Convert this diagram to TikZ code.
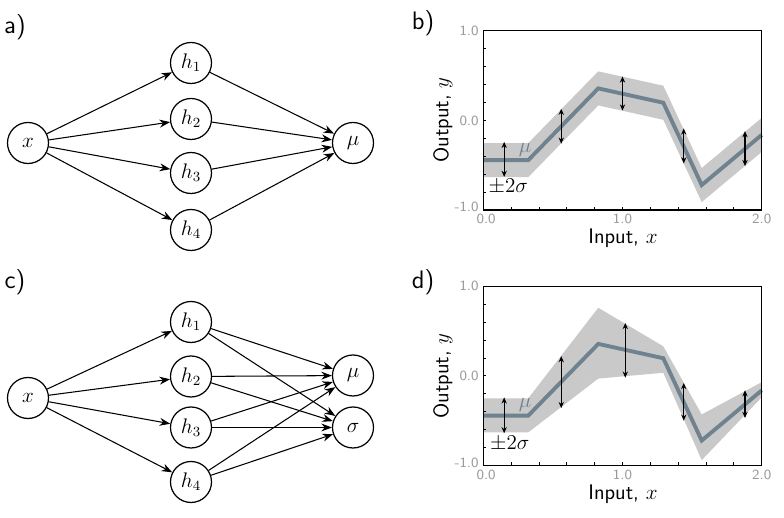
\documentclass[tikz,border=0pt]{standalone}
\usepackage{amsmath,amssymb}
\usetikzlibrary{arrows.meta}

\definecolor{meangray}{HTML}{6E828F}
\definecolor{bandgray}{HTML}{C9C9C9}
\definecolor{tickgray}{HTML}{9A9A9A}

\tikzset{
  neuron/.style={circle,draw,line width=0.7pt,minimum size=8.2mm,inner sep=0pt,font=\large},
  conn/.style={-{Stealth[length=6pt,width=4.5pt]},line width=0.6pt},
  panel/.style={font=\sffamily\Large},
  meanline/.style={meangray,line width=2.2pt,line join=miter},
  band/.style={fill=bandgray},
  errbar/.style={{Stealth[length=3.5pt,width=3pt]}-{Stealth[length=3.5pt,width=3pt]},line width=0.6pt},
  plotbox/.style={line width=0.8pt},
  ticklbl/.style={tickgray,font=\sffamily\footnotesize,inner sep=0.5pt},
  axislbl/.style={font=\sffamily\large},
}

\begin{document}
\begin{tikzpicture}[x=0.2mm,y=-0.2mm]
  \useasboundingbox (0,0) rectangle (784,518);

  % a) one output
  \node[panel] (pa) at (15,27) {a)};
  \node[neuron] (xa) at (28,143) {$x$};
  \node[neuron] (ha1) at (191,63) {$h_1$};
  \node[neuron] (ha2) at (191,119) {$h_2$};
  \node[neuron] (ha3) at (191,173) {$h_3$};
  \node[neuron] (ha4) at (191,230) {$h_4$};
  \node[neuron] (mua) at (353,143) {$\mu$};
  \foreach \i in {1,...,4} {
    \draw[conn] (xa) -- (ha\i);
    \draw[conn] (ha\i) -- (mua);
  }

  % c) two outputs
  \node[panel] (pc) at (15,282) {c)};
  \node[neuron] (xc) at (28,398) {$x$};
  \node[neuron] (hc1) at (191,322) {$h_1$};
  \node[neuron] (hc2) at (191,376.5) {$h_2$};
  \node[neuron] (hc3) at (191,427.5) {$h_3$};
  \node[neuron] (hc4) at (191,482) {$h_4$};
  \node[neuron] (muc) at (353,375.5) {$\mu$};
  \node[neuron] (sigc) at (353,427.5) {$\sigma$};
  \foreach \i in {1,...,4} {
    \draw[conn] (xc) -- (hc\i);
    \draw[conn] (hc\i) -- (muc);
    \draw[conn] (hc\i) -- (sigc);
  }

  % b) constant spread
  \node[panel] (pb) at (423,23) {b)};
  \node[axislbl,rotate=90] (yb) at (443,120) {Output, $y$};
  \node[axislbl] (xlb) at (623,238) {Input, $x$};
  \begin{scope}[shift={(483.3,120.4)},x=27.84mm,y=17.93mm]
    \fill[band] (0,-0.253) -- (0.323,-0.253) -- (0.826,0.547) -- (1.293,0.387)
      -- (1.569,-0.531) -- (2,0.028) -- (2,-0.352) -- (1.569,-0.911)
      -- (1.293,0.007) -- (0.826,0.167) -- (0.323,-0.633) -- (0,-0.633) -- cycle;
    \draw[meanline] (0,-0.443) -- (0.323,-0.443) -- (0.826,0.357) -- (1.293,0.197)
      -- (1.569,-0.721) -- (2,-0.162);
    \foreach \xe/\ya/\yb in {0.15/-0.24/-0.63,0.56/0.13/-0.26,1.0/0.49/0.11,
      1.44/-0.09/-0.48,1.88/-0.12/-0.51}
      \draw[errbar] (\xe,\ya) -- (\xe,\yb);
    \foreach \v in {0.2,0.4,...,1.9}
      \draw[line width=0.5pt] (\v,-1) -- (\v,-0.965);
    \foreach \v in {-0.8,-0.6,...,0.9}
      \draw[line width=0.5pt] (0,\v) -- (0.022,\v);
    \draw[plotbox] (0,-1) rectangle (2,1);
    \foreach \v/\t [count=\i] in {1/1.0,0/0.0,-0.97/-1.0}
      \node[ticklbl,anchor=east] (byt\i) at (-0.025,\v) {\t};
    \foreach \v/\t [count=\i] in {0.02/0.0,1/1.0,2/2.0}
      \node[ticklbl,anchor=north] (bxt\i) at (\v,-1.035) {\t};
    \node[meangray,font=\large] (mub) at (0.30,-0.33) {$\mu$};
    \node[font=\large] (sb) at (0.18,-0.74) {$\pm 2\sigma$};
  \end{scope}

  % d) input dependent spread
  \node[panel] (pd) at (423,282) {d)};
  \node[axislbl,rotate=90] (yd) at (443,376) {Output, $y$};
  \node[axislbl] (xld) at (623,494) {Input, $x$};
  \begin{scope}[shift={(483.3,375.9)},x=27.84mm,y=17.93mm]
    \fill[band] (0,-0.25) -- (0.323,-0.25) -- (0.826,0.76) -- (1.293,0.33)
      -- (1.569,-0.43) -- (2,-0.07) -- (2,-0.24) -- (1.569,-0.94)
      -- (1.293,0.035) -- (0.826,-0.03) -- (0.323,-0.63) -- (0,-0.63) -- cycle;
    \draw[meanline] (0,-0.443) -- (0.323,-0.443) -- (0.826,0.357) -- (1.293,0.197)
      -- (1.569,-0.721) -- (2,-0.162);
    \foreach \xe/\ya/\yb in {0.15/-0.24/-0.64,0.56/0.22/-0.36,1.02/0.59/-0.02,
      1.44/-0.08/-0.50,1.88/-0.16/-0.47}
      \draw[errbar] (\xe,\ya) -- (\xe,\yb);
    \foreach \v in {0.2,0.4,...,1.9}
      \draw[line width=0.5pt] (\v,-1) -- (\v,-0.965);
    \foreach \v in {-0.8,-0.6,...,0.9}
      \draw[line width=0.5pt] (0,\v) -- (0.022,\v);
    \draw[plotbox] (0,-1) rectangle (2,1);
    \foreach \v/\t [count=\i] in {1/1.0,0/0.0,-0.97/-1.0}
      \node[ticklbl,anchor=east] (dyt\i) at (-0.025,\v) {\t};
    \foreach \v/\t [count=\i] in {0.02/0.0,1/1.0,2/2.0}
      \node[ticklbl,anchor=north] (dxt\i) at (\v,-1.035) {\t};
    \node[meangray,font=\large] (mud) at (0.30,-0.325) {$\mu$};
    \node[font=\large] (sd) at (0.19,-0.75) {$\pm 2\sigma$};
  \end{scope}
\end{tikzpicture}
\end{document}
